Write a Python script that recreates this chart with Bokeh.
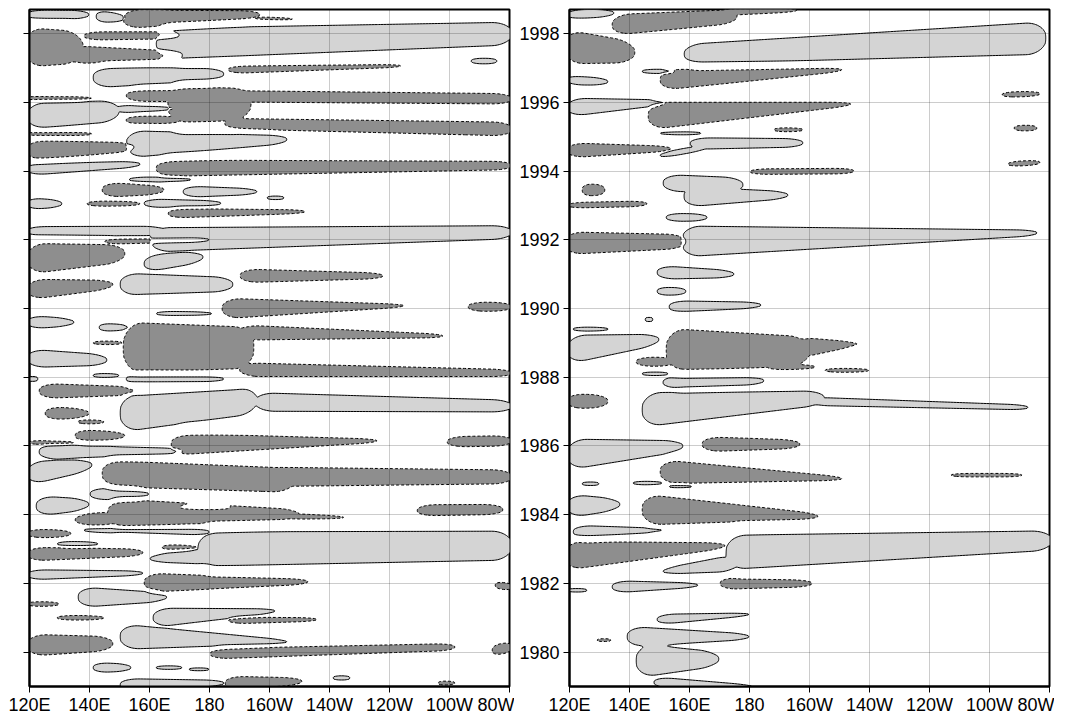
import numpy as np
from bokeh.plotting import figure
from bokeh.layouts import row
from bokeh.models import Range1d, FixedTicker
from bokeh.embed import file_html
from bokeh.resources import INLINE

# ---- axis values ----
lon_ticks = [120, 140, 160, 180, 200, 220, 240, 260, 280]
lon_labels = ["120E", "140E", "160E", "180", "160W", "140W", "120W", "100W", "80W"]
year_ticks = [1980, 1982, 1984, 1986, 1988, 1990, 1992, 1994, 1996, 1998]
year_labels = [str(y) for y in year_ticks]

# ---- anomaly features ----
# (sign, lon_west, lon_east, time_centre_west, time_centre_east, halfwidth_west, halfwidth_east)
left_blobs = [
    (+1, 119, 140, 1998.55, 1998.55, 0.15, 0.12),
    (+1, 142, 152, 1998.50, 1998.45, 0.18, 0.10),
    (-1, 151, 197, 1998.42, 1998.55, 0.28, 0.12),
    (-1, 195, 208, 1998.45, 1998.42, 0.05, 0.04),
    (+1, 162, 281, 1997.70, 1998.00, 0.45, 0.33),
    (+1, 267, 276, 1997.20, 1997.20, 0.08, 0.08),
    (-1, 118, 138, 1997.60, 1997.60, 0.58, 0.45),
    (-1, 138, 170, 1997.93, 1997.95, 0.12, 0.10),
    (-1, 133, 171, 1997.38, 1997.38, 0.27, 0.10),
    (+1, 141, 185, 1996.72, 1996.82, 0.30, 0.17),
    (-1, 186, 244, 1996.95, 1997.06, 0.12, 0.04),
    (-1, 152, 281, 1996.20, 1996.10, 0.17, 0.15),
    (-1, 185, 281, 1995.38, 1995.22, 0.15, 0.20),
    (-1, 152, 170, 1995.48, 1995.48, 0.12, 0.12),
    (-1, 166, 194, 1995.90, 1995.95, 0.55, 0.45),
    (+1, 119, 150, 1995.60, 1995.75, 0.38, 0.30),
    (+1, 148, 168, 1995.80, 1995.82, 0.12, 0.05),
    (-1, 119, 141, 1996.12, 1996.12, 0.07, 0.06),
    (-1, 119, 141, 1995.08, 1995.08, 0.06, 0.05),
    (+1, 152, 206, 1994.78, 1994.92, 0.40, 0.12),
    (-1, 119, 155, 1994.60, 1994.70, 0.30, 0.12),
    (-1, 162, 281, 1994.08, 1994.16, 0.24, 0.12),
    (+1, 119, 157, 1994.05, 1994.20, 0.18, 0.08),
    (+1, 153, 174, 1993.75, 1993.75, 0.08, 0.06),
    (-1, 144, 165, 1993.45, 1993.45, 0.22, 0.12),
    (+1, 171, 196, 1993.40, 1993.40, 0.17, 0.08),
    (+1, 199, 205, 1993.22, 1993.22, 0.05, 0.05),
    (-1, 139, 157, 1993.05, 1993.05, 0.08, 0.06),
    (+1, 158, 184, 1993.06, 1993.06, 0.13, 0.07),
    (-1, 166, 212, 1992.76, 1992.82, 0.15, 0.05),
    (+1, 119, 131, 1993.05, 1993.05, 0.17, 0.10),
    (+1, 119, 165, 1992.25, 1992.25, 0.14, 0.14),
    (+1, 160, 281, 1992.00, 1992.22, 0.35, 0.19),
    (+1, 150, 188, 1990.70, 1990.70, 0.33, 0.20),
    (+1, 158, 178, 1991.30, 1991.50, 0.25, 0.15),
    (-1, 119, 152, 1991.45, 1991.60, 0.45, 0.25),
    (-1, 145, 180, 1991.95, 1992.00, 0.08, 0.06),
    (-1, 119, 148, 1990.55, 1990.70, 0.30, 0.12),
    (-1, 190, 238, 1990.95, 1990.95, 0.20, 0.08),
    (-1, 184, 245, 1990.00, 1990.08, 0.30, 0.04),
    (-1, 266, 281, 1990.05, 1990.05, 0.14, 0.12),
    (+1, 162, 181, 1989.85, 1989.85, 0.10, 0.06),
    (+1, 119, 135, 1989.60, 1989.60, 0.20, 0.10),
    (+1, 143, 153, 1989.45, 1989.45, 0.12, 0.08),
    (-1, 151, 195, 1988.85, 1988.85, 0.75, 0.60),
    (-1, 190, 258, 1989.30, 1989.20, 0.22, 0.05),
    (-1, 190, 281, 1988.22, 1988.12, 0.20, 0.10),
    (-1, 141, 151, 1989.00, 1989.00, 0.05, 0.05),
    (+1, 119, 146, 1988.55, 1988.50, 0.27, 0.15),
    (+1, 141, 150, 1988.05, 1988.05, 0.06, 0.05),
    (+1, 119, 123, 1987.95, 1987.95, 0.07, 0.07),
    (+1, 152, 185, 1987.95, 1987.95, 0.15, 0.10),
    (+1, 150, 196, 1986.95, 1987.33, 0.55, 0.38),
    (+1, 195, 281, 1987.28, 1987.16, 0.27, 0.17),
    (-1, 123, 155, 1987.60, 1987.60, 0.22, 0.12),
    (-1, 125, 140, 1986.95, 1986.95, 0.20, 0.12),
    (-1, 136, 145, 1986.70, 1986.70, 0.06, 0.05),
    (-1, 167, 236, 1986.05, 1986.15, 0.32, 0.05),
    (-1, 135, 152, 1986.30, 1986.30, 0.18, 0.10),
    (-1, 119, 135, 1986.10, 1986.10, 0.06, 0.05),
    (-1, 259, 281, 1986.12, 1986.15, 0.15, 0.15),
    (+1, 123, 171, 1985.83, 1985.85, 0.22, 0.08),
    (+1, 119, 141, 1985.20, 1985.45, 0.35, 0.15),
    (-1, 144, 208, 1985.20, 1985.00, 0.38, 0.35),
    (-1, 200, 281, 1985.10, 1985.10, 0.28, 0.20),
    (+1, 140, 160, 1984.60, 1984.60, 0.18, 0.12),
    (+1, 122, 140, 1984.25, 1984.30, 0.30, 0.15),
    (-1, 146, 210, 1984.05, 1984.00, 0.42, 0.15),
    (-1, 135, 150, 1983.85, 1983.90, 0.15, 0.20),
    (-1, 205, 225, 1983.95, 1983.92, 0.10, 0.04),
    (+1, 170, 187, 1984.22, 1984.22, 0.06, 0.06),
    (-1, 249, 278, 1984.12, 1984.15, 0.17, 0.15),
    (+1, 176, 281, 1983.00, 1983.10, 0.50, 0.42),
    (+1, 138, 180, 1983.55, 1983.50, 0.06, 0.10),
    (+1, 160, 182, 1982.72, 1982.80, 0.10, 0.25),
    (-1, 119, 134, 1983.45, 1983.45, 0.13, 0.10),
    (-1, 119, 158, 1982.85, 1982.90, 0.20, 0.10),
    (-1, 164, 176, 1983.05, 1983.05, 0.08, 0.06),
    (+1, 129, 143, 1983.15, 1983.15, 0.08, 0.06),
    (+1, 119, 158, 1982.25, 1982.30, 0.15, 0.06),
    (-1, 158, 213, 1982.02, 1982.05, 0.28, 0.08),
    (+1, 136, 166, 1981.60, 1981.60, 0.30, 0.12),
    (-1, 119, 130, 1981.40, 1981.40, 0.07, 0.06),
    (+1, 161, 202, 1981.00, 1981.20, 0.28, 0.06),
    (-1, 186, 216, 1980.92, 1980.95, 0.10, 0.05),
    (-1, 129, 145, 1981.00, 1981.00, 0.07, 0.06),
    (+1, 150, 206, 1980.45, 1980.30, 0.37, 0.05),
    (-1, 119, 148, 1980.20, 1980.25, 0.32, 0.20),
    (-1, 180, 262, 1979.95, 1980.15, 0.15, 0.10),
    (+1, 141, 154, 1979.55, 1979.55, 0.15, 0.10),
    (+1, 162, 171, 1979.55, 1979.55, 0.05, 0.05),
    (+1, 173, 180, 1979.50, 1979.50, 0.04, 0.04),
    (-1, 185, 211, 1979.10, 1979.15, 0.20, 0.10),
    (+1, 150, 185, 1979.05, 1979.10, 0.18, 0.08),
    (+1, 221, 227, 1979.25, 1979.25, 0.06, 0.06),
    (-1, 274, 281, 1980.05, 1980.15, 0.15, 0.15),
    (-1, 275, 281, 1981.95, 1981.90, 0.10, 0.10),
    (-1, 256, 262, 1979.10, 1979.10, 0.06, 0.05),
]

right_blobs = [
    (+1, 119, 135, 1998.55, 1998.60, 0.15, 0.10),
    (-1, 118, 142, 1997.62, 1997.45, 0.50, 0.30),
    (-1, 134, 176, 1998.25, 1998.50, 0.30, 0.20),
    (-1, 170, 196, 1998.62, 1998.68, 0.10, 0.05),
    (+1, 158, 279, 1997.40, 1997.87, 0.28, 0.47),
    (+1, 144, 155, 1996.90, 1996.90, 0.06, 0.06),
    (+1, 119, 133, 1996.65, 1996.60, 0.15, 0.10),
    (-1, 150, 211, 1996.65, 1996.95, 0.30, 0.06),
    (-1, 146, 214, 1995.60, 1995.95, 0.40, 0.05),
    (+1, 119, 152, 1995.85, 1996.00, 0.27, 0.07),
    (-1, 188, 198, 1995.20, 1995.20, 0.06, 0.05),
    (+1, 150, 164, 1995.10, 1995.10, 0.06, 0.05),
    (+1, 160, 198, 1994.80, 1994.82, 0.17, 0.12),
    (+1, 150, 166, 1994.45, 1994.70, 0.08, 0.08),
    (-1, 119, 154, 1994.60, 1994.65, 0.22, 0.07),
    (-1, 264, 277, 1996.22, 1996.25, 0.08, 0.07),
    (-1, 268, 276, 1995.25, 1995.25, 0.08, 0.08),
    (-1, 266, 277, 1994.20, 1994.25, 0.07, 0.07),
    (-1, 180, 215, 1993.98, 1994.00, 0.08, 0.08),
    (+1, 151, 178, 1993.65, 1993.60, 0.25, 0.20),
    (+1, 158, 193, 1993.25, 1993.30, 0.30, 0.10),
    (+1, 152, 166, 1992.65, 1992.65, 0.12, 0.10),
    (-1, 124, 132, 1993.45, 1993.45, 0.18, 0.15),
    (-1, 119, 146, 1993.00, 1993.05, 0.08, 0.08),
    (+1, 157, 276, 1991.95, 1992.20, 0.45, 0.08),
    (-1, 118, 159, 1991.90, 1991.95, 0.33, 0.20),
    (+1, 149, 175, 1991.05, 1991.00, 0.20, 0.10),
    (+1, 149, 159, 1990.50, 1990.50, 0.12, 0.10),
    (+1, 153, 184, 1990.05, 1990.10, 0.18, 0.08),
    (+1, 145, 148, 1989.68, 1989.68, 0.06, 0.06),
    (+1, 121, 133, 1989.40, 1989.40, 0.06, 0.05),
    (+1, 119, 150, 1988.80, 1989.10, 0.42, 0.15),
    (-1, 152, 200, 1988.80, 1988.75, 0.62, 0.42),
    (-1, 195, 216, 1988.85, 1988.97, 0.32, 0.05),
    (-1, 142, 155, 1988.45, 1988.45, 0.13, 0.13),
    (-1, 186, 202, 1988.30, 1988.30, 0.08, 0.06),
    (-1, 205, 220, 1988.20, 1988.20, 0.06, 0.05),
    (+1, 144, 153, 1988.10, 1988.10, 0.05, 0.05),
    (+1, 151, 185, 1987.85, 1987.90, 0.18, 0.12),
    (+1, 144, 205, 1987.05, 1987.40, 0.50, 0.20),
    (+1, 200, 273, 1987.30, 1987.12, 0.12, 0.07),
    (-1, 119, 133, 1987.30, 1987.30, 0.22, 0.18),
    (+1, 119, 158, 1985.75, 1986.00, 0.45, 0.15),
    (-1, 164, 197, 1986.05, 1986.05, 0.22, 0.12),
    (-1, 150, 211, 1985.25, 1985.05, 0.35, 0.05),
    (-1, 247, 271, 1985.15, 1985.15, 0.05, 0.05),
    (+1, 124, 130, 1984.90, 1984.90, 0.05, 0.05),
    (+1, 141, 151, 1984.92, 1984.92, 0.05, 0.05),
    (+1, 153, 161, 1984.82, 1984.82, 0.06, 0.05),
    (+1, 119, 137, 1984.25, 1984.30, 0.35, 0.15),
    (-1, 144, 203, 1984.15, 1983.95, 0.45, 0.08),
    (+1, 121, 151, 1983.50, 1983.55, 0.20, 0.05),
    (-1, 118, 172, 1982.80, 1983.10, 0.42, 0.08),
    (+1, 172, 281, 1982.90, 1983.25, 0.50, 0.28),
    (+1, 151, 176, 1982.35, 1982.60, 0.08, 0.25),
    (-1, 170, 201, 1982.00, 1982.00, 0.18, 0.10),
    (+1, 134, 163, 1981.90, 1981.95, 0.18, 0.06),
    (+1, 119, 126, 1981.80, 1981.80, 0.05, 0.05),
    (+1, 149, 180, 1980.95, 1981.10, 0.15, 0.04),
    (+1, 139, 180, 1980.45, 1980.45, 0.30, 0.08),
    (+1, 142, 170, 1979.75, 1979.80, 0.50, 0.20),
    (+1, 148, 181, 1979.12, 1979.00, 0.16, 0.04),
    (-1, 129, 134, 1980.35, 1980.35, 0.04, 0.04),
]

DARK = "#8e8e8e"
LIGHT = "#d4d4d4"
FONT = "Liberation Sans"

lon_grid = np.arange(117.0, 283.01, 0.5)
t_grid = np.arange(1978.7, 1999.0, 1.0 / 48)
LN2 = np.log(2.0)
ROUND = 7.0   # length (deg) over which each feature's ends are rounded
UNION_P = 4.0  # soft union exponent so that touching features merge smoothly


def build_field(blobs):
    pos = np.zeros((len(t_grid), len(lon_grid)))
    neg = np.zeros_like(pos)
    for s, x0, x1, ta, tb, ha, hb in blobs:
        span = x1 - x0
        f = np.clip((lon_grid - x0) / span, 0, 1)
        tc = ta + f * (tb - ta)
        hw = ha + f * (hb - ha)
        r = min(ROUND, 0.45 * span)
        dw = np.clip((lon_grid - x0) / r, 0, 1)
        de = np.clip((x1 - lon_grid) / r, 0, 1)
        env = np.sqrt(1 - (1 - dw) ** 2) * np.sqrt(1 - (1 - de) ** 2)
        h = np.maximum(hw * env, 1e-4)
        g = np.exp(-LN2 * ((t_grid[:, None] - tc[None, :]) / h[None, :]) ** 2)
        g[:, env <= 0] = 0.0
        if s > 0:
            pos += g ** UNION_P
        else:
            neg += g ** UNION_P
    return pos ** (1 / UNION_P) - neg ** (1 / UNION_P)


def make_panel(blobs, show_years, min_left):
    p = figure(frame_width=480, frame_height=677,
               x_range=Range1d(120, 280), y_range=Range1d(1979.0, 1998.7),
               output_backend="svg", toolbar_location=None,
               min_border_left=min_left, min_border_right=5,
               min_border_top=9, min_border_bottom=0,
               background_fill_color="white", border_fill_color="white")
    z = build_field(blobs)
    p.contour(x=lon_grid, y=t_grid, z=z, levels=[-3, -0.5], fill_color=DARK, line_color=None)
    p.contour(x=lon_grid, y=t_grid, z=z, levels=[0.5, 3], fill_color=LIGHT, line_color=None)
    p.contour(x=lon_grid, y=t_grid, z=z, levels=[-0.5], fill_color=None,
              line_color="black", line_width=1, line_dash="3 2")
    p.contour(x=lon_grid, y=t_grid, z=z, levels=[0.5], fill_color=None,
              line_color="black", line_width=1)

    p.xaxis.ticker = FixedTicker(ticks=lon_ticks)
    p.xaxis.major_label_overrides = {t: l for t, l in zip(lon_ticks, lon_labels)}
    p.yaxis.ticker = FixedTicker(ticks=year_ticks)
    if show_years:
        p.yaxis.major_label_overrides = {t: l for t, l in zip(year_ticks, year_labels)}
    else:
        p.yaxis.major_label_overrides = {t: "" for t in year_ticks}
    p.axis.major_label_text_font = FONT
    p.axis.major_label_text_font_size = "18px"
    p.axis.major_label_text_color = "black"
    p.axis.major_tick_out = 6
    p.axis.major_tick_in = 0
    p.axis.major_tick_line_color = "black"
    p.axis.major_tick_line_width = 1
    p.axis.minor_tick_line_color = None
    p.axis.axis_line_color = "black"
    p.axis.axis_line_width = 2
    p.xaxis.major_label_standoff = 2
    p.yaxis.major_label_standoff = 4

    p.grid.grid_line_color = "black"
    p.grid.grid_line_alpha = 0.2
    p.grid.grid_line_width = 1
    p.grid.level = "overlay"

    p.outline_line_color = "black"
    p.outline_line_width = 2
    p.outline_line_alpha = 1
    return p


p1 = make_panel(left_blobs, False, 29)
p2 = make_panel(right_blobs, True, 55)
layout = row(p1, p2)

open("out.html", "w").write(file_html(layout, INLINE))
